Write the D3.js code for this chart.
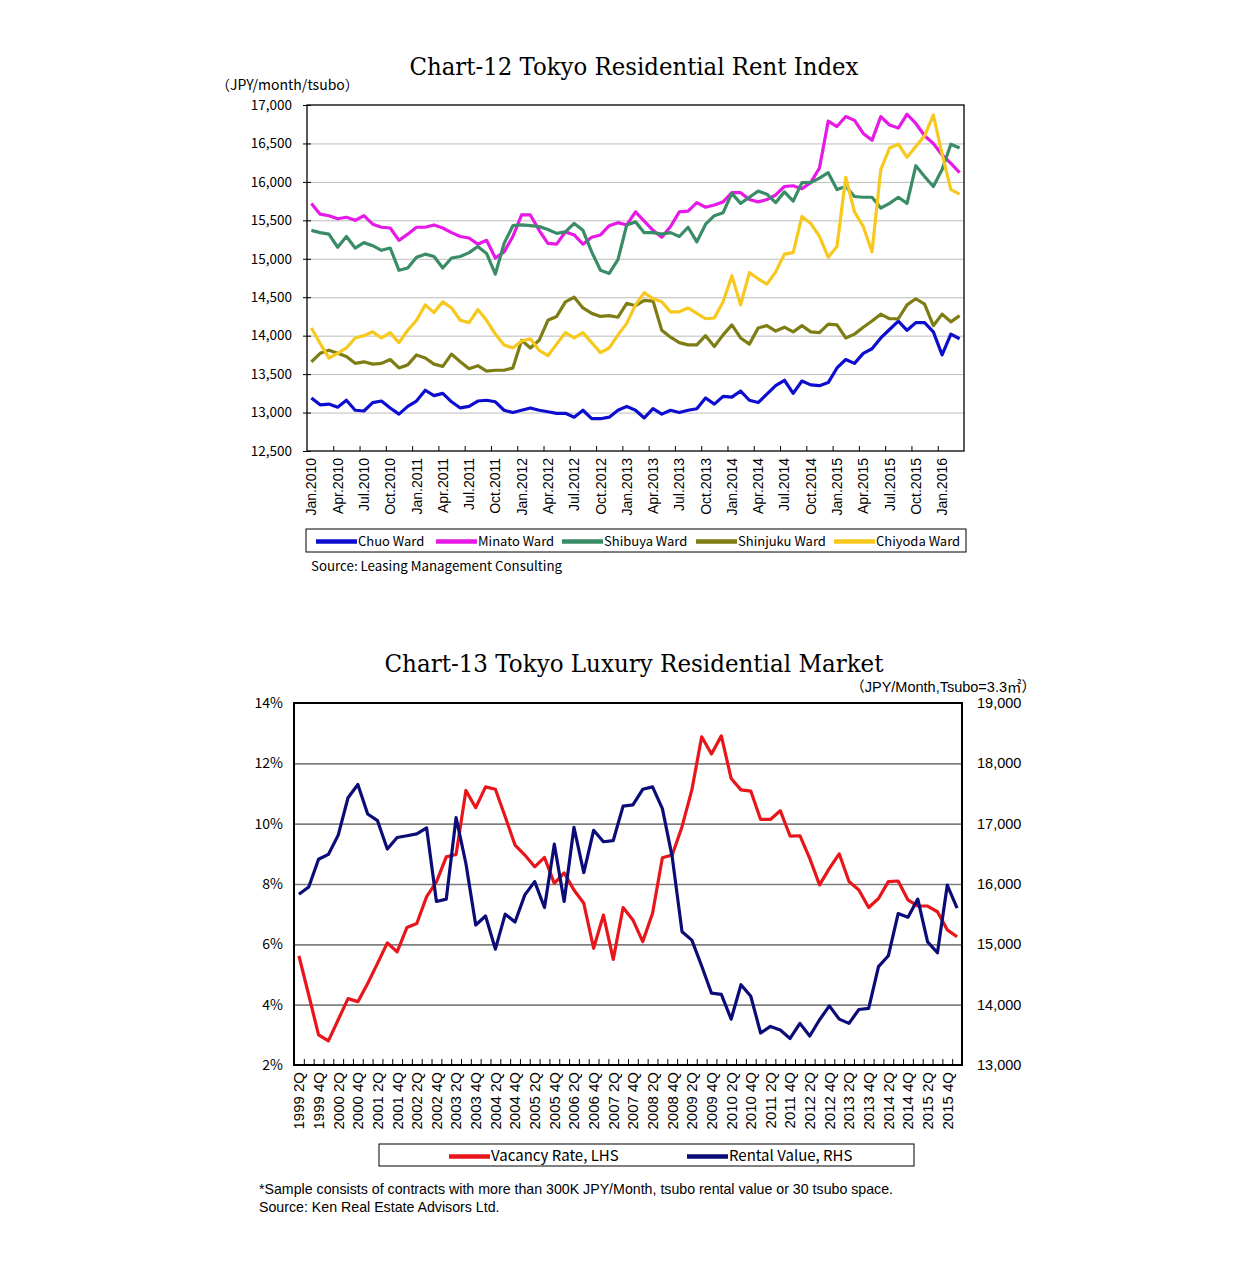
<!DOCTYPE html>
<html>
<head>
<meta charset="utf-8">
<script src="https://cdn.jsdelivr.net/npm/d3@7"></script>
<style>
body { margin: 0; background: #fff; }
</style>
</head>
<body>
<svg id="page" width="1255" height="1280"></svg>
<script>
// ---- Chart-12 data (monthly, Jan.2010 - Mar.2016) ----
var monthNames = ["Jan", "Feb", "Mar", "Apr", "May", "Jun", "Jul", "Aug", "Sep", "Oct", "Nov", "Dec"];
var rentYears = [2010, 2011, 2012, 2013, 2014, 2015, 2016];
var rentTicks = [12500, 13000, 13500, 14000, 14500, 15000, 15500, 16000, 16500, 17000];

var chuo = [13190,13100,13110,13070,13160,13030,13020,13130,13150,13060,12980,13080,
            13150,13290,13220,13250,13140,13060,13080,13150,13160,13140,13030,13000,
            13030,13060,13030,13010,12990,12990,12940,13030,12920,12920,12940,13030,
            13080,13030,12930,13050,12980,13030,13000,13030,13050,13190,13110,13210,
            13200,13280,13160,13130,13240,13350,13420,13250,13410,13360,13350,13390,
            13580,13690,13640,13770,13830,13970,14080,14190,14070,14170,14170,14050,
            13750,14020,13960];
var minato = [15720,15580,15560,15520,15540,15500,15560,15450,15410,15400,15240,15320,
              15410,15410,15440,15400,15340,15290,15270,15190,15240,15010,15090,15290,
              15570,15570,15370,15200,15190,15350,15310,15190,15280,15310,15430,15470,
              15440,15610,15490,15370,15280,15420,15610,15620,15730,15670,15700,15740,
              15860,15860,15770,15740,15770,15830,15940,15950,15910,15990,16180,16790,
              16720,16850,16800,16630,16540,16850,16740,16700,16880,16760,16600,16500,
              16350,16240,16120];
var shibuya = [15370,15340,15320,15150,15290,15140,15210,15170,15110,15140,14850,14880,
               15020,15060,15030,14880,15010,15030,15080,15160,15070,14800,15200,15430,
               15440,15430,15420,15380,15330,15350,15460,15370,15090,14850,14810,14990,
               15440,15480,15340,15340,15320,15340,15290,15410,15220,15450,15560,15600,
               15850,15720,15800,15880,15840,15730,15870,15750,15990,15990,16050,16120,
               15900,15940,15810,15800,15800,15660,15720,15800,15720,16210,16070,15940,
               16160,16490,16440];
var shinjuku = [13660,13770,13810,13770,13730,13640,13660,13630,13640,13690,13580,13620,
                13750,13710,13630,13600,13760,13660,13570,13610,13540,13550,13550,13580,
                13940,13840,13940,14200,14250,14440,14500,14360,14290,14250,14260,14240,
                14420,14390,14460,14450,14070,13980,13910,13880,13880,14000,13860,14010,
                14140,13970,13890,14100,14130,14060,14110,14050,14130,14050,14040,14150,
                14140,13970,14020,14110,14190,14280,14220,14220,14400,14480,14410,14130,
                14280,14180,14260];
var chiyoda = [14100,13900,13710,13770,13840,13970,14000,14050,13970,14040,13910,14070,
               14200,14400,14300,14440,14360,14200,14170,14340,14200,14020,13880,13840,
               13930,13960,13810,13740,13890,14040,13970,14040,13910,13780,13840,14010,
               14160,14400,14560,14480,14440,14310,14310,14360,14290,14220,14230,14440,
               14780,14400,14820,14740,14670,14830,15060,15080,15550,15460,15290,15020,
               15160,16060,15610,15420,15090,16160,16440,16490,16320,16460,16600,16870,
               16360,15900,15840];

var wardNames = ["Chuo Ward", "Minato Ward", "Shibuya Ward", "Shinjuku Ward", "Chiyoda Ward"];
var wardColors = ["#0d0dcf", "#e619e6", "#3a8c66", "#7d7d14", "#f7c81e"];

// ---- Chart-13 data (quarterly, 1999 2Q - 2016 1Q) ----
var quarterYears = [1999, 2000, 2001, 2002, 2003, 2004, 2005, 2006, 2007, 2008,
                    2009, 2010, 2011, 2012, 2013, 2014, 2015, 2016];
var vacancyTicks = [2, 4, 6, 8, 10, 12, 14];
var rentalTicks = [13000, 14000, 15000, 16000, 17000, 18000, 19000];

var vacancy = [5.62,4.32,3.00,2.80,3.50,4.20,4.10,4.70,5.37,6.05,5.75,6.56,
               6.69,7.58,8.07,8.90,8.98,11.10,10.53,11.22,11.14,10.23,9.29,8.96,
               8.57,8.88,8.02,8.37,7.80,7.36,5.87,6.97,5.50,7.22,6.81,6.09,
               7.03,8.87,8.96,9.90,11.12,12.88,12.31,12.91,11.50,11.12,11.08,10.14,
               10.14,10.43,9.59,9.60,8.85,7.97,8.52,9.00,8.08,7.80,7.22,7.52,
               8.08,8.10,7.47,7.27,7.27,7.08,6.48,6.25];
var rental = [15830,15950,16410,16490,16810,17430,17650,17160,17050,16580,16770,16800,
              16830,16930,15710,15750,17100,16340,15320,15470,14920,15500,15370,15820,
              16040,15610,16660,15710,16940,16190,16890,16700,16720,17290,17310,17570,
              17610,17250,16450,15210,15070,14640,14190,14170,13760,14330,14140,13530,
              13640,13580,13440,13690,13480,13750,13980,13760,13690,13920,13940,14630,
              14810,15510,15450,15750,15040,14860,15980,15600];

var marketNames = ["Vacancy Rate, LHS", "Rental Value, RHS"];
var marketColors = ["#e8161b", "#0c0c78"];

// ---- fonts ----
var gothic = "'Noto Sans CJK JP', 'Liberation Sans', sans-serif";
var latin = "'Liberation Sans', Arial, sans-serif";
var serif = "'DejaVu Serif', 'Liberation Serif', serif";

var svg = d3.select("#page");

/*
draws a legend row: short thick line + label for every entry

g: group to draw in
names, colors: legend entries
starts: x of every line sample
y0: baseline of the labels
size: font size of the labels
*/
function drawLegend(g, names, colors, starts, y0, size){
    names.forEach(function(name, i){
        var cx = starts[i];
        g.append("line")
            .attr("x1", cx).attr("x2", cx + 41)
            .attr("y1", y0 - 4.5).attr("y2", y0 - 4.5)
            .attr("stroke", colors[i])
            .attr("stroke-width", 4.5);
        g.append("text")
            .attr("x", cx + 42).attr("y", y0)
            .style("font-family", gothic)
            .style("font-size", size)
            .text(name);
    });
}

function drawTitle(g, text, x, y, width){
    g.append("text")
        .attr("x", x).attr("y", y)
        .attr("text-anchor", "middle")
        .attr("textLength", width)
        .attr("lengthAdjust", "spacingAndGlyphs")
        .style("font-family", serif)
        .style("font-size", "25px")
        .text(text);
}

// =================== Chart-12 ===================
function drawRentChart(){
    var left = 307, right = 964, top = 105, bottom = 451;
    var g = svg.append("g").attr("id", "chart12");

    var categories = [];
    rentYears.forEach(function(yr){
        monthNames.forEach(function(m){ categories.push(m + "." + yr); });
    });
    categories = categories.slice(0, chuo.length);

    var x = d3.scaleBand().domain(categories).range([left, right]);
    var xEdge = d3.scaleLinear().domain([0, categories.length]).range([left, right]);
    var y = d3.scaleLinear().domain([12500, 17000]).range([bottom, top]);

    drawTitle(g, "Chart-12 Tokyo Residential Rent Index", 634, 75, 449);

    g.append("text")
        .attr("x", 216).attr("y", 90)
        .style("font-family", gothic)
        .style("font-size", "14px")
        .text("（JPY/month/tsubo）");

    // gridlines
    g.append("g")
        .attr("transform", "translate(" + left + ",0)")
        .call(d3.axisLeft(y).tickValues(rentTicks.slice(1, -1)).tickSize(-(right - left)).tickFormat(""))
        .call(function(a){ a.select(".domain").remove(); })
        .selectAll("line").attr("stroke", "#bcbcbc").attr("stroke-width", 1);

    // y axis labels + crossing ticks
    var yAxis = g.append("g")
        .attr("transform", "translate(" + left + ",0)")
        .call(d3.axisLeft(y).tickValues(rentTicks).tickSize(4).tickPadding(11).tickFormat(d3.format(",")));
    yAxis.select(".domain").remove();
    yAxis.selectAll("line").attr("x1", 4).attr("x2", -4).attr("stroke", "#000");
    yAxis.selectAll("text")
        .style("font-family", gothic)
        .style("font-size", "13.5px")
        .attr("fill", "#000");

    // x tick marks between categories, every 3 months
    var edgeTicks = d3.range(3, categories.length, 3);
    g.append("g")
        .attr("transform", "translate(0," + bottom + ")")
        .call(d3.axisBottom(xEdge).tickValues(edgeTicks).tickSize(-5).tickFormat(""))
        .call(function(a){ a.select(".domain").remove(); })
        .selectAll("line").attr("stroke", "#000");

    // x labels
    var xAxis = g.append("g")
        .attr("transform", "translate(0," + bottom + ")")
        .call(d3.axisBottom(x).tickValues(categories.filter(function(d, i){ return i % 3 === 0; })).tickSize(0));
    xAxis.select(".domain").remove();
    xAxis.selectAll("text")
        .attr("transform", "rotate(-90)")
        .attr("x", -7).attr("y", 0).attr("dy", "0.36em")
        .attr("text-anchor", "end")
        .attr("fill", "#000")
        .style("font-family", latin)
        .style("font-size", "14px");

    // lines
    var series = [chuo, minato, shibuya, shinjuku, chiyoda];
    var line = d3.line()
        .x(function(d, i){ return x(categories[i]) + x.bandwidth() / 2; })
        .y(function(d){ return y(d); });
    series.forEach(function(s, k){
        g.append("path")
            .datum(s)
            .attr("d", line)
            .attr("fill", "none")
            .attr("stroke", wardColors[k])
            .attr("stroke-width", 3.2)
            .attr("stroke-linejoin", "round");
    });

    // plot border
    g.append("rect")
        .attr("x", left).attr("y", top)
        .attr("width", right - left).attr("height", bottom - top)
        .attr("fill", "none").attr("stroke", "#000").attr("stroke-width", 1.3);

    // legend
    g.append("rect")
        .attr("x", 306).attr("y", 529).attr("width", 660).attr("height", 23)
        .attr("fill", "none").attr("stroke", "#000").attr("stroke-width", 1);
    drawLegend(g, wardNames, wardColors, [316, 436, 562, 696, 834], 546, "13px");

    g.append("text")
        .attr("x", 311).attr("y", 571)
        .style("font-family", gothic)
        .style("font-size", "13.3px")
        .text("Source: Leasing Management Consulting");
}

// =================== Chart-13 ===================
function drawMarketChart(){
    var left = 294, right = 962, top = 703, bottom = 1065;
    var g = svg.append("g").attr("id", "chart13");

    var categories = [];
    quarterYears.forEach(function(yr){
        [1, 2, 3, 4].forEach(function(q){ categories.push(yr + " " + q + "Q"); });
    });
    categories = categories.slice(1, 1 + vacancy.length);

    var x = d3.scaleBand().domain(categories).range([left, right]);
    var xEdge = d3.scaleLinear().domain([0, categories.length]).range([left, right]);
    var yL = d3.scaleLinear().domain([2, 14]).range([bottom, top]);
    var yR = d3.scaleLinear().domain([13000, 19000]).range([bottom, top]);

    drawTitle(g, "Chart-13 Tokyo Luxury Residential Market", 634, 672, 499);

    g.append("text")
        .attr("x", 1036).attr("y", 691.5)
        .attr("text-anchor", "end")
        .style("font-family", "'Liberation Sans', 'Noto Sans CJK JP', sans-serif")
        .style("font-size", "14.5px")
        .text("（JPY/Month,Tsubo=3.3㎡）");

    // gridlines
    g.append("g")
        .attr("transform", "translate(" + left + ",0)")
        .call(d3.axisLeft(yL).tickValues(vacancyTicks.slice(1, -1)).tickSize(-(right - left)).tickFormat(""))
        .call(function(a){ a.select(".domain").remove(); })
        .selectAll("line").attr("stroke", "#7f7f7f").attr("stroke-width", 1.6);

    var yAxisL = g.append("g")
        .attr("transform", "translate(" + left + ",0)")
        .call(d3.axisLeft(yL).tickValues(vacancyTicks).tickSize(0).tickPadding(11)
            .tickFormat(function(d){ return d + "%"; }));
    yAxisL.select(".domain").remove();
    yAxisL.selectAll("text")
        .style("font-family", gothic).style("font-size", "14px").attr("fill", "#000");

    var yAxisR = g.append("g")
        .attr("transform", "translate(" + right + ",0)")
        .call(d3.axisRight(yR).tickValues(rentalTicks).tickSize(0).tickPadding(15).tickFormat(d3.format(",")));
    yAxisR.select(".domain").remove();
    yAxisR.selectAll("text")
        .style("font-family", latin).style("font-size", "14.5px").attr("fill", "#000");

    // x tick marks on every category boundary
    g.append("g")
        .attr("transform", "translate(0," + bottom + ")")
        .call(d3.axisBottom(xEdge).tickValues(d3.range(1, categories.length)).tickSize(-6).tickFormat(""))
        .call(function(a){ a.select(".domain").remove(); })
        .selectAll("line").attr("stroke", "#000");

    var xAxis = g.append("g")
        .attr("transform", "translate(0," + bottom + ")")
        .call(d3.axisBottom(x).tickValues(categories.filter(function(d, i){ return i % 2 === 0; })).tickSize(0));
    xAxis.select(".domain").remove();
    xAxis.selectAll("text")
        .attr("transform", "rotate(-90)")
        .attr("x", -7).attr("y", 0).attr("dy", "0.36em")
        .attr("text-anchor", "end")
        .attr("fill", "#000")
        .style("font-family", latin)
        .style("font-size", "15px");

    var cx = function(i){ return x(categories[i]) + x.bandwidth() / 2; };
    var vacLine = d3.line().x(function(d, i){ return cx(i); }).y(function(d){ return yL(d); });
    var rentLine = d3.line().x(function(d, i){ return cx(i); }).y(function(d){ return yR(d); });

    g.append("path").datum(vacancy).attr("d", vacLine)
        .attr("fill", "none").attr("stroke", marketColors[0])
        .attr("stroke-width", 3.2).attr("stroke-linejoin", "round");
    g.append("path").datum(rental).attr("d", rentLine)
        .attr("fill", "none").attr("stroke", marketColors[1])
        .attr("stroke-width", 3.2).attr("stroke-linejoin", "round");

    g.append("rect")
        .attr("x", left).attr("y", top)
        .attr("width", right - left).attr("height", bottom - top)
        .attr("fill", "none").attr("stroke", "#000").attr("stroke-width", 2);

    // legend
    g.append("rect")
        .attr("x", 379).attr("y", 1144).attr("width", 535).attr("height", 22)
        .attr("fill", "none").attr("stroke", "#000").attr("stroke-width", 1);
    drawLegend(g, marketNames, marketColors, [449, 687], 1161, "15px");

    g.append("text")
        .attr("x", 259).attr("y", 1194)
        .style("font-family", latin).style("font-size", "14.2px")
        .text("*Sample consists of contracts with more than 300K JPY/Month, tsubo rental value or 30 tsubo space.");
    g.append("text")
        .attr("x", 259).attr("y", 1212)
        .style("font-family", latin).style("font-size", "14.2px")
        .text("Source: Ken Real Estate Advisors Ltd.");
}

drawRentChart();
drawMarketChart();
</script>
</body>
</html>
